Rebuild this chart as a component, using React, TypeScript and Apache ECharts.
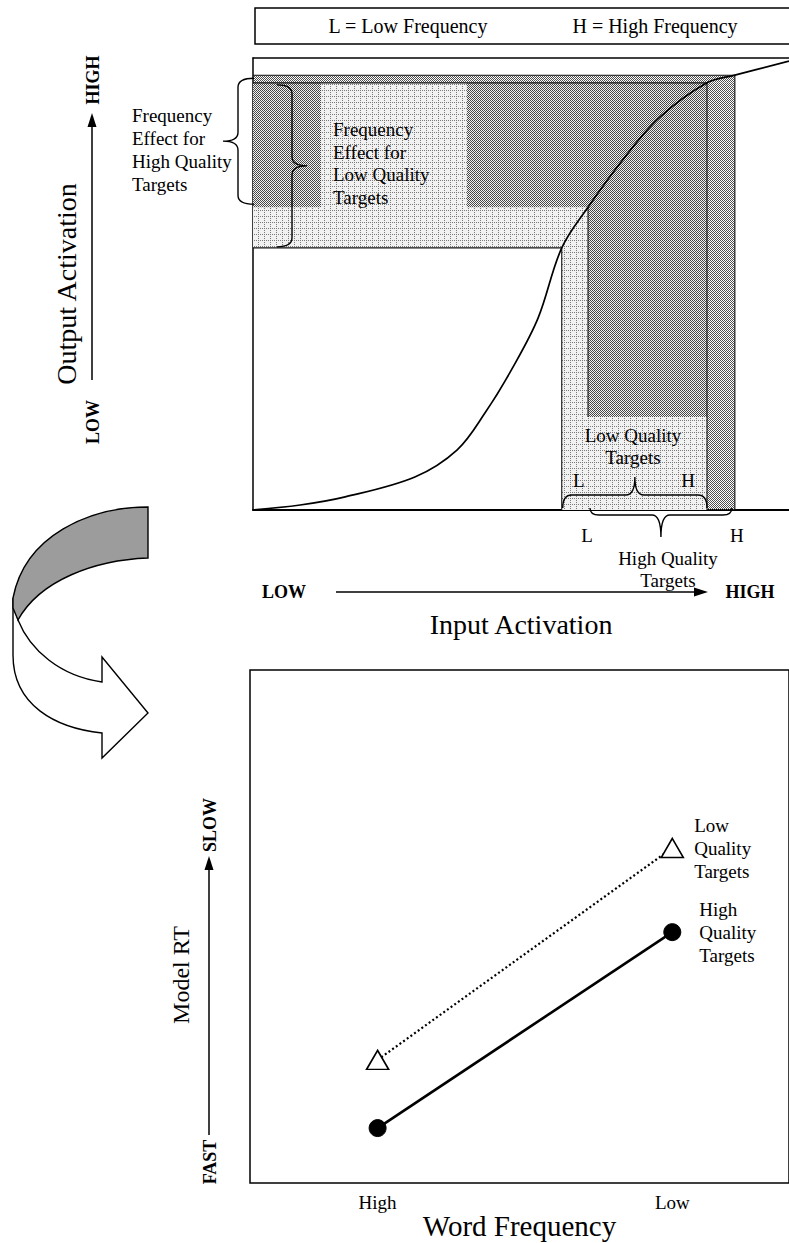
import React, { useEffect, useRef } from 'react';
import * as echarts from 'echarts';

// ---------------- data ----------------
// Top panel: activation function (input and output activation on a 0-100 scale)
const curveInput = [0, 8.8, 17.2, 30.2, 38.1, 43.3, 48.5, 53.2, 57.6, 62.5, 69.4, 75.9, 84.7, 89.9, 100];
const curveOutput = [0, 1.1, 2.9, 7.3, 13.3, 21.5, 31.6, 42.5, 58.0, 67.0, 78.1, 86.9, 94.5, 96.2, 99.3];
const frequencyCodes = ['L', 'H'];
const lowQualityInput = [57.6, 84.7]; // L, H
const lowQualityOutput = [58.0, 94.5];
const highQualityInput = [62.5, 89.9];
const highQualityOutput = [67.0, 96.2];
const labelClearInput = [12.7, 39.9];
const labelClearOutput = 20.6;

// Bottom panel: model RT by word frequency
const wordFrequency = ['High', 'Low'];
const frequencyPosition = [0, 1];
const highQualityRT = [10.7, 48.9];
const lowQualityRT = [24.0, 65.3];

const FONT = '"Liberation Serif", "Times New Roman", serif';

let shapesRegistered = false;
function registerShapes() {
  if (shapesRegistered) return;
  shapesRegistered = true;
  echarts.graphic.registerShape(
    'turnBand',
    echarts.graphic.extendPath('M148,507 C90,507 25,535 13,598 L13,608 L18,620 C40,580 95,560 148,558 Z', {})
  );
  echarts.graphic.registerShape(
    'turnRibbon',
    echarts.graphic.extendPath(
      'M13,598 L13,655 C13,705 55,728 102,733 L102,758 L148,713 L102,657 L102,682 C60,676 30,650 18,620 Z',
      {}
    )
  );
}

function makePattern(kind: 'grid' | 'stipple') {
  const c = document.createElement('canvas');
  const ctx = c.getContext('2d')!;
  if (kind === 'grid') {
    c.width = 6;
    c.height = 6;
    ctx.fillStyle = '#f1f1f1';
    ctx.fillRect(0, 0, 6, 6);
    ctx.fillStyle = '#7a7a7a';
    for (let i = 0; i < 6; i += 2) {
      ctx.fillRect(i, 0, 1, 1);
      ctx.fillRect(0, i, 1, 1);
    }
    return { image: c, repeat: 'repeat', imageWidth: 6, imageHeight: 6 };
  }
  c.width = 2;
  c.height = 2;
  ctx.clearRect(0, 0, 2, 2);
  ctx.fillStyle = 'rgba(55,55,55,0.88)';
  ctx.fillRect(0, 0, 1, 1);
  ctx.fillRect(1, 1, 1, 1);
  return { image: c, repeat: 'repeat', imageWidth: 2, imageHeight: 2 };
}

function braceD(vertical: boolean, a0: number, a1: number, e: number, s: number, depth: number, tip: number, r = 9) {
  const b = e + s * depth;
  const t = b + s * tip;
  const m = (a0 + a1) / 2;
  const P = (al: number, ac: number) => (vertical ? `${ac},${al}` : `${al},${ac}`);
  return (
    `M${P(a0, e)} Q${P(a0, b)} ${P(a0 + r, b)} L${P(m - r, b)} Q${P(m, b)} ${P(m, t)} ` +
    `Q${P(m, b)} ${P(m + r, b)} L${P(a1 - r, b)} Q${P(a1, b)} ${P(a1, e)}`
  );
}

function txt(text: string, x: number, y: number, size: number, o: any = {}) {
  return {
    type: 'text',
    x,
    y,
    z: 100,
    rotation: o.rot || 0,
    style: {
      text,
      fill: '#000',
      fontSize: size,
      fontFamily: FONT,
      fontWeight: o.bold ? 'bold' : 'normal',
      textAlign: o.align || 'center',
      align: o.align || 'center',
      textVerticalAlign: 'middle',
      verticalAlign: 'middle',
      lineHeight: o.lh || Math.round(size * 1.2),
    },
  };
}

export default function App() {
  const ref = useRef<HTMLDivElement>(null);

  useEffect(() => {
    registerShapes();
    const chart = echarts.init(ref.current!, null, { renderer: 'svg' });
    const gridFill = makePattern('grid');
    const stippleFill = makePattern('stipple');

    const gridRects = [
      [0, lowQualityInput[0], lowQualityOutput[0], lowQualityOutput[1]],
      [lowQualityInput[0], lowQualityInput[1], 0, lowQualityOutput[1]],
    ];
    const stippleRects = [
      [0, highQualityInput[1], lowQualityOutput[1], highQualityOutput[1]],
      [lowQualityInput[1], highQualityInput[1], 0, lowQualityOutput[1]],
      [0, labelClearInput[0], highQualityOutput[0], lowQualityOutput[1]],
      [labelClearInput[1], highQualityInput[0], highQualityOutput[0], lowQualityOutput[1]],
      [highQualityInput[0], lowQualityInput[1], labelClearOutput, lowQualityOutput[1]],
    ];
    const outlines = [
      [0, lowQualityOutput[1], lowQualityInput[1], lowQualityOutput[1]],
      [lowQualityInput[1], 0, lowQualityInput[1], lowQualityOutput[1]],
      [0, lowQualityOutput[0], lowQualityInput[0], lowQualityOutput[0]],
      [lowQualityInput[0], 0, lowQualityInput[0], lowQualityOutput[0]],
      [0, highQualityOutput[1], highQualityInput[1], highQualityOutput[1]],
      [highQualityInput[1], 0, highQualityInput[1], highQualityOutput[1]],
      [highQualityInput[0], labelClearOutput, highQualityInput[0], highQualityOutput[0]],
    ];

    const rectRender = (fill: any) => (params: any, api: any) => {
      const p0 = api.coord([api.value(0), api.value(3)]);
      const p1 = api.coord([api.value(1), api.value(2)]);
      return {
        type: 'rect',
        shape: { x: p0[0], y: p0[1], width: p1[0] - p0[0], height: p1[1] - p0[1] },
        style: { fill, stroke: null },
      };
    };

    const braceRender = (params: any, api: any) => {
      const i = params.dataIndex;
      const origin = api.coord([0, 0]);
      const axisX = origin[0];
      const axisY = origin[1];
      let d = '';
      const labels: any[] = [];
      if (i === 0) {
        const a0 = api.coord([0, highQualityOutput[1]])[1] + 3;
        const a1 = api.coord([0, highQualityOutput[0]])[1] - 3;
        d = braceD(true, a0, a1, axisX + 1, -1, 16, 15);
      } else if (i === 1) {
        const a0 = api.coord([0, lowQualityOutput[1]])[1] + 2;
        const a1 = api.coord([0, lowQualityOutput[0]])[1] - 1;
        d = braceD(true, a0, a1, axisX + 24, 1, 15, 15);
      } else if (i === 2) {
        const a0 = api.coord([lowQualityInput[0], 0])[0] + 1;
        const a1 = api.coord([lowQualityInput[1], 0])[0];
        d = braceD(false, a0, a1, axisY - 2, -1, 13, 18);
        labels.push([frequencyCodes[0], a0 + 16, axisY - 30], [frequencyCodes[1], a1 - 19, axisY - 30]);
      } else {
        const a0 = api.coord([highQualityInput[0], 0])[0] + 2;
        const a1 = api.coord([highQualityInput[1], 0])[0] - 3;
        d = braceD(false, a0, a1, axisY - 2, 1, 7, 22);
        labels.push([frequencyCodes[0], a0 - 3, axisY + 25], [frequencyCodes[1], a1 + 5, axisY + 25]);
      }
      return {
        type: 'group',
        children: [
          { type: 'path', shape: { pathData: d }, style: { fill: 'none', stroke: '#000', lineWidth: 1.4 } },
          ...labels.map((l) => ({
            type: 'text',
            x: l[1],
            y: l[2],
            style: {
              text: l[0],
              fill: '#000',
              fontSize: 19,
              fontFamily: FONT,
              textAlign: 'center',
              align: 'center',
              textVerticalAlign: 'middle',
              verticalAlign: 'middle',
            },
          })),
        ],
      };
    };

    const seriesLabel = {
      show: false,
      position: 'right',
      fontFamily: FONT,
      fontSize: 19,
      lineHeight: 23,
      color: '#000',
      align: 'left',
      formatter: (p: any) => p.seriesName.split(' ').join('\n'),
    };

    const option: any = {
      animation: false,
      backgroundColor: '#fff',
      textStyle: { fontFamily: FONT },
      grid: [
        { left: 253, top: 58, width: 536, height: 452 },
        { left: 250, top: 670, width: 545, height: 513, show: true, borderColor: '#000', borderWidth: 1.5, backgroundColor: 'transparent' },
      ],
      xAxis: [
        {
          gridIndex: 0, type: 'value', min: 0, max: 100,
          axisLine: { show: true, onZero: false, lineStyle: { color: '#000', width: 2.2 } },
          axisTick: { show: false }, axisLabel: { show: false }, splitLine: { show: false },
          name: 'Input Activation', nameLocation: 'middle', nameGap: 100, nameMoveOverlap: false,
          nameTextStyle: { fontFamily: FONT, fontSize: 28, color: '#000' },
        },
        {
          gridIndex: 0, type: 'value', position: 'top', min: 0, max: 100,
          axisLine: { show: true, onZero: false, lineStyle: { color: '#000', width: 1.5 } },
          axisTick: { show: false }, axisLabel: { show: false }, splitLine: { show: false },
        },
        {
          gridIndex: 1, type: 'value', min: -0.433, max: 1.396,
          axisLine: { show: false }, axisTick: { show: false }, splitLine: { show: false },
          axisLabel: {
            customValues: frequencyPosition,
            formatter: (v: number) => {
              const k = frequencyPosition.indexOf(v);
              return k >= 0 ? wordFrequency[k] : '';
            },
            fontFamily: FONT, fontSize: 19, color: '#000', margin: 10,
          },
          name: 'Word Frequency', nameLocation: 'middle', nameGap: 28, nameMoveOverlap: false,
          nameTextStyle: { fontFamily: FONT, fontSize: 29, color: '#000' },
        },
      ],
      yAxis: [
        {
          gridIndex: 0, type: 'value', min: 0, max: 100,
          axisLine: { show: true, onZero: false, lineStyle: { color: '#000', width: 1.5 } },
          axisTick: { show: false }, axisLabel: { show: false }, splitLine: { show: false },
          name: 'Output Activation', nameLocation: 'middle', nameGap: 173, nameMoveOverlap: false,
          nameTextStyle: { fontFamily: FONT, fontSize: 28, color: '#000' },
        },
        {
          gridIndex: 1, type: 'value', min: 0, max: 100,
          axisLine: { show: false }, axisTick: { show: false }, axisLabel: { show: false }, splitLine: { show: false },
        },
      ],
      series: [
        {
          type: 'custom', name: 'lowQualityRegion', xAxisIndex: 0, yAxisIndex: 0,
          encode: { x: [0, 1], y: [2, 3] }, data: gridRects, renderItem: rectRender(gridFill), silent: true, z: 1,
        },
        {
          type: 'custom', name: 'highQualityRegion', xAxisIndex: 0, yAxisIndex: 0,
          encode: { x: [0, 1], y: [2, 3] }, data: stippleRects, renderItem: rectRender(stippleFill), silent: true, z: 1,
        },
        {
          type: 'custom', name: 'regionEdges', xAxisIndex: 0, yAxisIndex: 0,
          encode: { x: [0, 2], y: [1, 3] }, data: outlines, silent: true, z: 3,
          renderItem: (params: any, api: any) => {
            const p0 = api.coord([api.value(0), api.value(1)]);
            const p1 = api.coord([api.value(2), api.value(3)]);
            return {
              type: 'line',
              shape: { x1: p0[0], y1: p0[1], x2: p1[0], y2: p1[1] },
              style: { stroke: '#111', lineWidth: 1.1 },
            };
          },
        },
        {
          type: 'line', name: 'activation', xAxisIndex: 0, yAxisIndex: 0,
          data: curveInput.map((x, i) => [x, curveOutput[i]]),
          smooth: 0.35, symbol: 'none', silent: true, z: 4,
          lineStyle: { color: '#000', width: 1.7 },
        },
        {
          type: 'custom', name: 'braces', xAxisIndex: 0, yAxisIndex: 0,
          data: [[0, 0], [1, 0], [2, 0], [3, 0]], renderItem: braceRender, silent: true, z: 5, clip: false,
        },
        {
          type: 'line', name: 'Low Quality Targets', xAxisIndex: 2, yAxisIndex: 1,
          data: [
            [frequencyPosition[0], lowQualityRT[0]],
            { value: [frequencyPosition[1], lowQualityRT[1]], label: { show: true, distance: 10 } },
          ],
          symbol: 'triangle', symbolSize: [22, 19],
          itemStyle: { color: '#fff', borderColor: '#000', borderWidth: 1.6 },
          lineStyle: { color: '#000', width: 2.2, type: [2, 2.5] },
          label: seriesLabel, silent: true, z: 6,
        },
        {
          type: 'line', name: 'High Quality Targets', xAxisIndex: 2, yAxisIndex: 1,
          data: [
            [frequencyPosition[0], highQualityRT[0]],
            { value: [frequencyPosition[1], highQualityRT[1]], label: { show: true, distance: 18 } },
          ],
          symbol: 'circle', symbolSize: 17,
          itemStyle: { color: '#000', borderColor: '#000', borderWidth: 1 },
          lineStyle: { color: '#000', width: 2.6 },
          label: seriesLabel, silent: true, z: 6,
        },
      ],
      graphic: [
        { type: 'rect', z: 100, shape: { x: 255, y: 8, width: 560, height: 36 }, style: { fill: 'none', stroke: '#000', lineWidth: 1.5 } },
        txt('L = Low Frequency', 408, 26, 20),
        txt('H = High Frequency', 655, 26, 20),
        // output activation axis
        txt('HIGH', 93, 80, 18, { bold: true, rot: Math.PI / 2 }),
        { type: 'line', z: 100, shape: { x1: 92, y1: 380, x2: 92, y2: 124 }, style: { stroke: '#000', lineWidth: 1.5 } },
        { type: 'polygon', z: 100, shape: { points: [[92, 113], [87.5, 127], [96.5, 127]] }, style: { fill: '#000' } },
        txt('LOW', 93, 422, 18, { bold: true, rot: Math.PI / 2 }),
        // input activation axis
        txt('LOW', 284, 592, 18, { bold: true }),
        { type: 'line', z: 100, shape: { x1: 336, y1: 592, x2: 696, y2: 592 }, style: { stroke: '#000', lineWidth: 1.5 } },
        { type: 'polygon', z: 100, shape: { points: [[708, 592], [694, 587.5], [694, 596.5]] }, style: { fill: '#000' } },
        txt('HIGH', 750, 592, 18, { bold: true }),
        // region annotations
        txt('Frequency\nEffect for\nHigh Quality\nTargets', 132, 149.5, 19, { align: 'left', lh: 23 }),
        txt('Frequency\nEffect for\nLow Quality\nTargets', 333, 163.5, 19, { align: 'left', lh: 22.5 }),
        txt('Low Quality\nTargets', 633, 446, 19, { lh: 22 }),
        txt('High Quality\nTargets', 668, 569, 19, { lh: 22 }),
        // turn arrow
        { type: 'turnRibbon', z: 100, x: 0, y: 0, style: { fill: '#fff', stroke: '#000', lineWidth: 1.4 } },
        { type: 'turnBand', z: 100, x: 0, y: 0, style: { fill: '#9c9c9c', stroke: '#000', lineWidth: 1.4 } },
        // model RT axis
        txt('Model RT', 181, 975, 24, { rot: Math.PI / 2 }),
        txt('SLOW', 210, 825, 18, { bold: true, rot: Math.PI / 2 }),
        { type: 'line', z: 100, shape: { x1: 209, y1: 1135, x2: 209, y2: 868 }, style: { stroke: '#000', lineWidth: 1.5 } },
        { type: 'polygon', z: 100, shape: { points: [[209, 856], [204.5, 870], [213.5, 870]] }, style: { fill: '#000' } },
        txt('FAST', 210, 1162, 18, { bold: true, rot: Math.PI / 2 }),
      ],
    };

    chart.setOption(option);
    return () => chart.dispose();
  }, []);

  return (
    <div
      ref={ref}
      style={{ position: 'absolute', left: 0, top: 0, width: 789, height: 1243, background: '#fff' }}
    />
  );
}
